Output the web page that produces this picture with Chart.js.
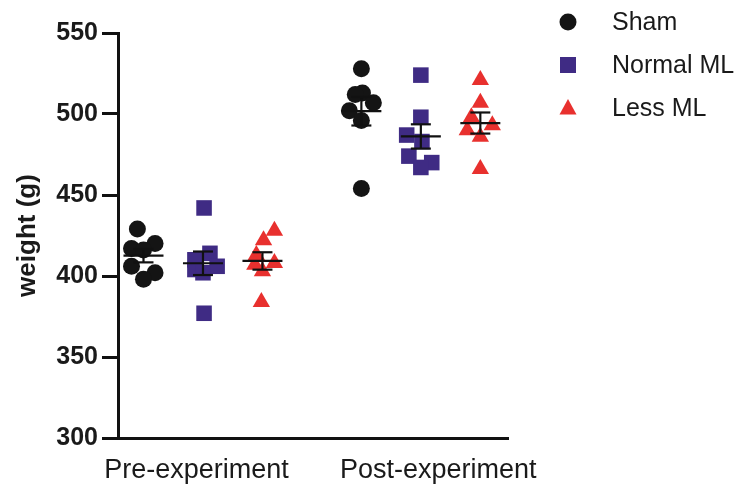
<!DOCTYPE html>
<html>
<head>
<meta charset="utf-8">
<title>Weight</title>
<script src="https://cdn.jsdelivr.net/npm/chart.js@4/dist/chart.umd.min.js"></script>
<style>
    html, body { margin: 0; padding: 0; background: #fff; }
    #chartBox { width: 743px; height: 491px; }
</style>
</head>
<body>
<div id="chartBox"><canvas id="weightChart" width="743" height="491"></canvas></div>
<script>
// Dane
const categories = ['Pre-experiment', 'Post-experiment'];
const groupNames = ['Sham', 'Normal ML', 'Less ML'];
const yTicks = [300, 350, 400, 450, 500, 550];

const shamPre = [429, 420, 417, 416, 406, 402, 398];
const shamPost = [528, 513, 512, 507, 502, 496, 454];
const normalPre = [442, 414, 410, 406, 404, 402, 377];
const normalPost = [524, 498, 487, 483, 474, 470, 467];
const lessPre = [428, 422, 413, 408, 407, 403, 384];
const lessPost = [521, 507, 498, 493, 490, 486, 466];

// Rozrzut punktów w poziomie (jednostki osi x)
const shamPreJitter = [-0.028, 0.053, -0.055, 0, -0.055, 0.053, 0];
const shamPostJitter = [0, 0.005, -0.028, 0.055, -0.055, 0, 0];
const normalPreJitter = [0.005, 0.032, -0.037, 0.065, -0.037, 0, 0.005];
const normalPostJitter = [0, 0, -0.065, 0.005, -0.055, 0.05, 0];
const lessPreJitter = [0.055, 0.005, -0.028, 0.055, -0.035, 0, -0.005];
const lessPostJitter = [0, 0, -0.041, 0.055, -0.06, 0, 0];

const groupSeries = [
    [shamPre, shamPost],
    [normalPre, normalPost],
    [lessPre, lessPost]
];
const groupJitter = [
    [shamPreJitter, shamPostJitter],
    [normalPreJitter, normalPostJitter],
    [lessPreJitter, lessPostJitter]
];

const columnOffset = [-0.273, 0, 0.273];
const labelAt = [-0.03, 1.08];
const colors = ['#141414', '#3f2b84', '#e8302e'];
const styles = ['circle', 'rect', 'triangle'];
const radii = [8.5, 11, 10];

function buildPoints(g) {
    const pts = [];
    groupSeries[g].forEach((vals, c) => {
        vals.forEach((v, i) => {
            pts.push({ x: c + columnOffset[g] + groupJitter[g][c][i], y: v });
        });
    });
    return pts;
}

const datasets = groupNames.map((name, g) => ({
    label: name,
    data: buildPoints(g),
    pointStyle: styles[g],
    pointRadius: radii[g],
    pointHoverRadius: radii[g],
    backgroundColor: colors[g],
    borderColor: colors[g],
    borderWidth: 0
}));

// Średnia ± SEM
const meanSemPlugin = {
    id: 'meanSem',
    afterDatasetsDraw(chart) {
        const { ctx, scales: { x, y } } = chart;
        ctx.save();
        ctx.strokeStyle = '#111';
        ctx.lineWidth = 2.2;
        const seg = (x1, y1, x2, y2) => {
            ctx.beginPath();
            ctx.moveTo(x1, y1);
            ctx.lineTo(x2, y2);
            ctx.stroke();
        };
        groupSeries.forEach((series, g) => {
            series.forEach((vals, c) => {
                const n = vals.length;
                const mean = vals.reduce((a, b) => a + b, 0) / n;
                const sd = Math.sqrt(vals.reduce((a, b) => a + (b - mean) ** 2, 0) / (n - 1));
                const sem = sd / Math.sqrt(n);
                const cx = x.getPixelForValue(c + columnOffset[g]);
                const ym = y.getPixelForValue(mean);
                const yt = y.getPixelForValue(mean + sem);
                const yb = y.getPixelForValue(mean - sem);
                seg(cx - 20, ym, cx + 20, ym);
                seg(cx, yt, cx, yb);
                seg(cx - 10, yt, cx + 10, yt);
                seg(cx - 10, yb, cx + 10, yb);
            });
        });
        ctx.restore();
    }
};

// Legenda rysowana ręcznie
const legendPlugin = {
    id: 'sideLegend',
    afterDraw(chart) {
        const { ctx } = chart;
        ctx.save();
        chart.data.datasets.forEach((ds, i) => {
            const cx = 568;
            const cy = 22 + i * 43;
            ctx.fillStyle = ds.backgroundColor;
            ctx.beginPath();
            if (ds.pointStyle === 'circle') {
                ctx.arc(cx, cy, 8.5, 0, Math.PI * 2);
            } else if (ds.pointStyle === 'rect') {
                ctx.rect(cx - 8, cy - 8, 16, 16);
            } else {
                ctx.moveTo(cx, cy - 9);
                ctx.lineTo(cx + 8.5, cy + 6.5);
                ctx.lineTo(cx - 8.5, cy + 6.5);
                ctx.closePath();
            }
            ctx.fill();
            ctx.fillStyle = '#1a1a1a';
            ctx.font = '25px Arial, "Liberation Sans", sans-serif';
            ctx.textAlign = 'left';
            ctx.textBaseline = 'middle';
            ctx.fillText(ds.label, 612, cy + 1);
        });
        ctx.restore();
    }
};

const ctx = document.getElementById('weightChart').getContext('2d');
const weightChart = new Chart(ctx, {
    type: 'scatter',
    data: { datasets: datasets },
    options: {
        responsive: false,
        animation: false,
        devicePixelRatio: 1,
        layout: { padding: { top: 33, right: 235, bottom: 0, left: 0 } },
        plugins: {
            legend: { display: false },
            tooltip: { enabled: false }
        },
        scales: {
            x: {
                type: 'linear',
                min: -0.39,
                max: 1.40,
                afterBuildTicks: s => { s.ticks = labelAt.map(v => ({ value: v })); },
                afterFit: s => { s.height = 53; },
                grid: { display: false, drawTicks: false },
                border: { display: true, color: '#111', width: 3 },
                ticks: {
                    autoSkip: false,
                    maxRotation: 0,
                    padding: 16,
                    color: '#1a1a1a',
                    font: { family: 'Arial, "Liberation Sans", sans-serif', size: 27 },
                    callback: (v, i) => categories[i]
                }
            },
            y: {
                min: yTicks[0],
                max: yTicks[yTicks.length - 1],
                afterBuildTicks: s => { s.ticks = yTicks.map(v => ({ value: v })); },
                afterFit: s => { s.width = 118; },
                grid: {
                    display: true,
                    drawOnChartArea: false,
                    drawTicks: true,
                    tickLength: 16,
                    color: '#111',
                    lineWidth: 3
                },
                border: { display: true, color: '#111', width: 3 },
                ticks: {
                    padding: 4,
                    color: '#1a1a1a',
                    font: { family: 'Arial, "Liberation Sans", sans-serif', size: 25, weight: 'bold' }
                },
                title: {
                    display: true,
                    text: 'weight (g)',
                    color: '#1a1a1a',
                    padding: { top: 12, bottom: 0 },
                    font: { family: 'Arial, "Liberation Sans", sans-serif', size: 26, weight: 'bold' }
                }
            }
        }
    },
    plugins: [meanSemPlugin, legendPlugin]
});
</script>
</body>
</html>
